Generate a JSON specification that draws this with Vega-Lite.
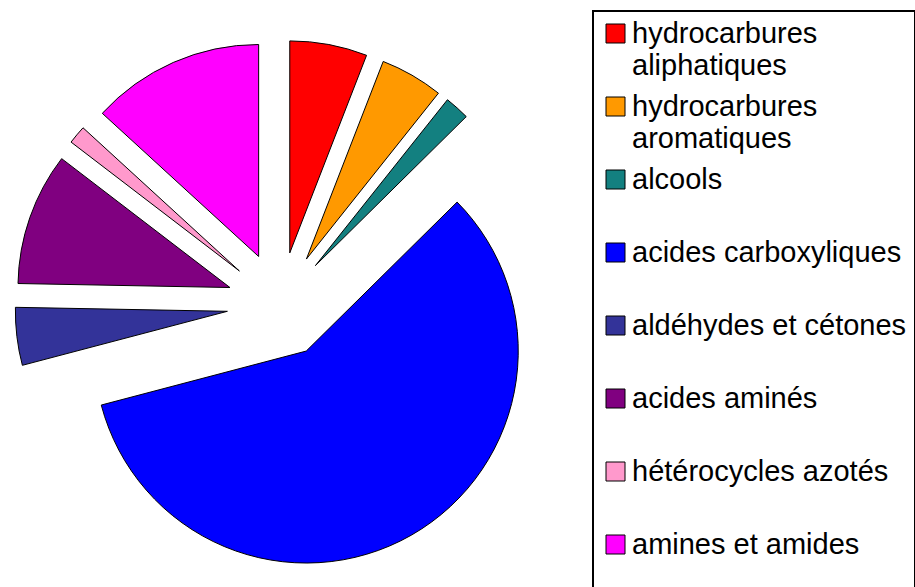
{
  "$schema": "https://vega.github.io/schema/vega-lite/v6.json",
  "width": 915,
  "height": 587,
  "padding": 0,
  "autosize": {"type": "none"},
  "background": "white",
  "config": {"view": {"stroke": null}},
  "data": {
    "values": [
      {"famille": "hydrocarbures aliphatiques", "part": 5.9, "ordre": 1},
      {"famille": "hydrocarbures aromatiques", "part": 4.8, "ordre": 2},
      {"famille": "alcools", "part": 1.9, "ordre": 3},
      {"famille": "acides carboxyliques", "part": 58.3, "ordre": 4},
      {"famille": "aldéhydes et cétones", "part": 4.4, "ordre": 5},
      {"famille": "acides aminés", "part": 10.1, "ordre": 6},
      {"famille": "hétérocycles azotés", "part": 1.4, "ordre": 7},
      {"famille": "amines et amides", "part": 13.2, "ordre": 8}
    ]
  },
  "transform": [
    {"stack": "part", "groupby": [], "sort": [{"field": "ordre"}], "as": ["v0", "v1"], "offset": "normalize"},
    {"calculate": "PI * (datum.v0 + datum.v1)", "as": "mid"},
    {"calculate": "sin(datum.mid)", "as": "sx"},
    {"calculate": "cos(datum.mid)", "as": "cy"}
  ],
  "mark": {"type": "arc", "outerRadius": 212, "stroke": "black", "strokeWidth": 1},
  "encoding": {
    "theta": {"field": "v0", "type": "quantitative", "scale": {"domain": [0, 1], "range": [0, 6.283185307179586]}},
    "theta2": {"field": "v1"},
    "x": {"field": "sx", "type": "quantitative", "axis": null, "scale": {"domain": [-5.283, 11.981], "zero": false, "nice": false}},
    "y": {"field": "cy", "type": "quantitative", "axis": null, "scale": {"domain": [-5.321, 5.755], "zero": false, "nice": false}},
    "color": {
      "field": "famille",
      "type": "nominal",
      "sort": null,
      "scale": {
        "domain": ["hydrocarbures aliphatiques", "hydrocarbures aromatiques", "alcools", "acides carboxyliques", "aldéhydes et cétones", "acides aminés", "hétérocycles azotés", "amines et amides"],
        "range": ["#FF0000", "#FF9900", "#138080", "#0000FF", "#333399", "#800080", "#FF99CC", "#FF00FF"]
      },
      "legend": {
        "orient": "none",
        "legendX": 593,
        "legendY": 11,
        "title": null,
        "padding": 8,
        "strokeColor": "black",
        "fillColor": "white",
        "symbolType": "square",
        "symbolSize": 361,
        "symbolStrokeColor": "black",
        "symbolStrokeWidth": 1,
        "symbolOpacity": 1,
        "labelFont": "Liberation Sans",
        "labelFontSize": 29,
        "labelColor": "black",
        "labelOffset": 2,
        "labelLimit": 400,
        "rowPadding": 11,
        "labelExpr": "indexof(datum.label, 'hydrocarbures') == 0 ? split(datum.label, ' ') : [datum.label, ' ']",
        "encode": {
          "legend": {"update": {"strokeWidth": {"value": 2}}},
          "labels": {"update": {"lineHeight": {"value": 32}}}
        }
      }
    }
  }
}
